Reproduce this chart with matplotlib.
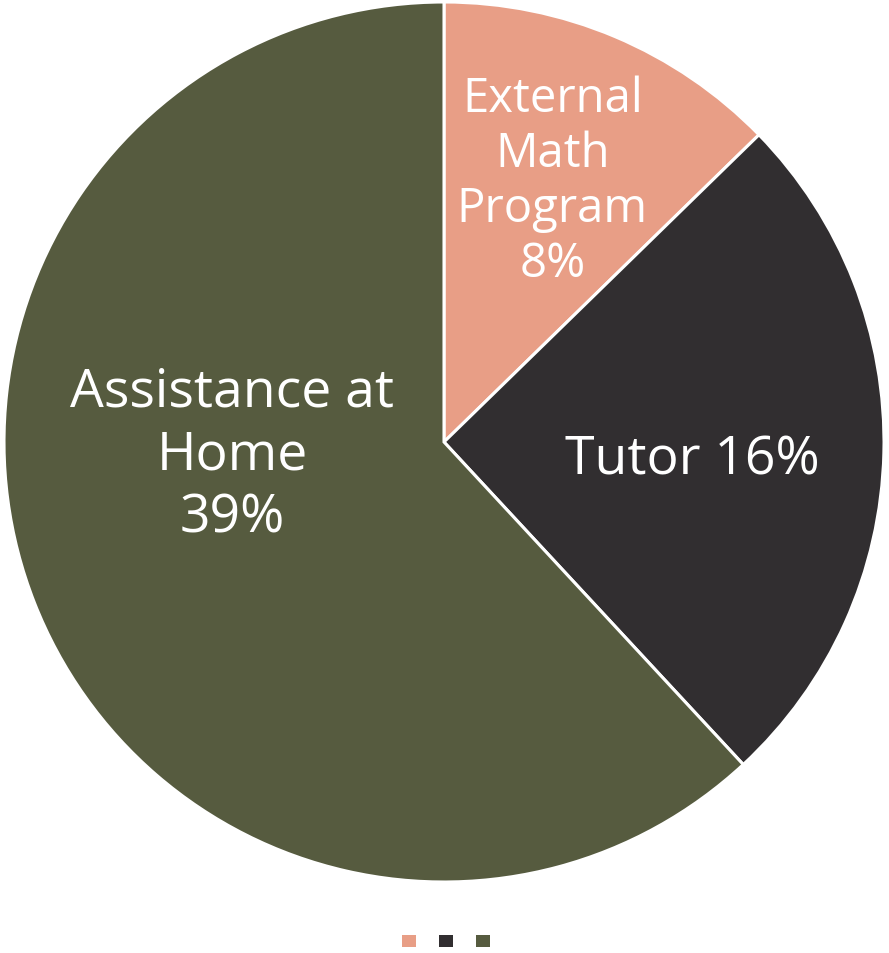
import numpy as np
import matplotlib.pyplot as plt
from matplotlib.patches import Patch

plt.rcParams['font.family'] = ['Open Sans', 'DejaVu Sans']

# data
labels = ['External Math Program', 'Tutor', 'Assistance at Home']
values = [8, 16, 39]
colors = ['#E89E86', '#312E30', '#565B3F']

fig = plt.figure(figsize=(8.89, 9.54), dpi=100)
ax = fig.add_axes([4 / 889, 71 / 954, 880 / 889, 880 / 954])

wedges, _ = ax.pie(values, colors=colors, startangle=90, counterclock=False,
                   radius=1, wedgeprops=dict(edgecolor='white', linewidth=2.2))
ax.set_xlim(-1, 1)
ax.set_ylim(-1, 1)
ax.set_aspect('equal')
ax.axis('off')

# label placement (Excel best-fit style): distance, angle in degrees, font size, line spacing
label_pos = [(0.643, 67.5, 34, 1.2), (0.565, -4.0, 38.5, 1.2), (0.483, 183.5, 38.5, 1.24)]
label_text = ['External\nMath\nProgram\n8%', 'Tutor 16%', 'Assistance at\nHome\n39%']
for (d, a, fs, ls), t in zip(label_pos, label_text):
    ax.text(d * np.cos(np.radians(a)), d * np.sin(np.radians(a)), t,
            ha='center', va='center', color='white', fontsize=fs,
            linespacing=ls)

handles = [Patch(facecolor=c) for c in colors]
fig.legend(handles, ['', '', ''], loc='center', bbox_to_anchor=(446 / 889, 1 - 943 / 954),
           ncol=3, frameon=False, handlelength=1, handleheight=1, fontsize=10,
           columnspacing=1.68, handletextpad=0)

fig.savefig('out.png', dpi=100)
